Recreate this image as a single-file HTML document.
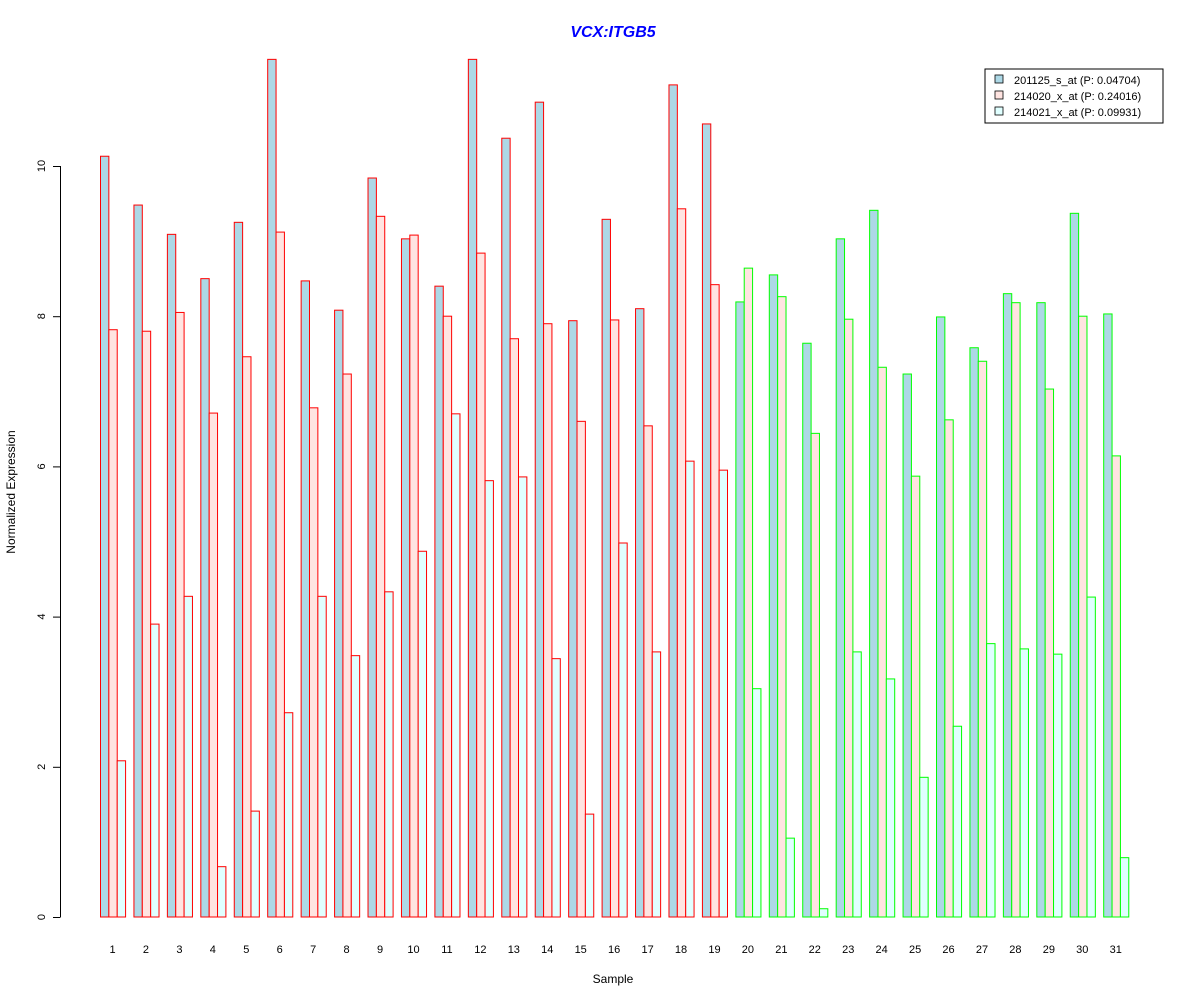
<!DOCTYPE html>
<html><head><meta charset="utf-8"><style>
html,body{margin:0;padding:0;background:#fff;}
svg{display:block;font-family:"Liberation Sans",Arial,sans-serif;}
</style></head><body>
<svg id="chart" width="1200" height="1000" viewBox="0 0 1200 1000" xmlns="http://www.w3.org/2000/svg">
<text x="613" y="37" text-anchor="middle" font-size="16" font-weight="bold" font-style="italic" fill="#0000FF">VCX:ITGB5</text>
<g id="bars"></g>
<g id="yaxis"></g>
<g id="xaxis"></g>
<text x="613" y="983" text-anchor="middle" font-size="12">Sample</text>
<text transform="translate(15,492) rotate(-90)" text-anchor="middle" font-size="12">Normalized Expression</text>
<g>
<rect x="985" y="69" width="178" height="54" fill="#fff" stroke="#000" stroke-width="1"/>
<g><rect x="995" y="75" width="8" height="8" fill="#ADD8E6" stroke="#000" stroke-width="0.8"/><text x="1014" y="84" font-size="11">201125_s_at (P: 0.04704)</text></g>
<g><rect x="995" y="91" width="8" height="8" fill="#FFE4E1" stroke="#000" stroke-width="0.8"/><text x="1014" y="100" font-size="11">214020_x_at (P: 0.24016)</text></g>
<g><rect x="995" y="107" width="8" height="8" fill="#E0FFFF" stroke="#000" stroke-width="0.8"/><text x="1014" y="116" font-size="11">214021_x_at (P: 0.09931)</text></g>
</g>
</svg>
<script>
const categories = ["1","2","3","4","5","6","7","8","9","10","11","12","13","14","15","16","17","18","19","20","21","22","23","24","25","26","27","28","29","30","31"];
const series1 = [10.13,9.48,9.09,8.50,9.25,11.42,8.47,8.08,9.84,9.03,8.40,11.42,10.37,10.85,7.94,9.29,8.10,11.08,10.56,8.19,8.55,7.64,9.03,9.41,7.23,7.99,7.58,8.30,8.18,9.37,8.03];
const series2 = [7.82,7.80,8.05,6.71,7.46,9.12,6.78,7.23,9.33,9.08,8.00,8.84,7.70,7.90,6.60,7.95,6.54,9.43,8.42,8.64,8.26,6.44,7.96,7.32,5.87,6.62,7.40,8.18,7.03,8.00,6.14];
const series3 = [2.08,3.90,4.27,0.67,1.41,2.72,4.27,3.48,4.33,4.87,6.70,5.81,5.86,3.44,1.37,4.98,3.53,6.07,5.95,3.04,1.05,0.11,3.53,3.17,1.86,2.54,3.64,3.57,3.50,4.26,0.79];
const groupClass = [0,0,0,0,0,0,0,0,0,0,0,0,0,0,0,0,0,0,0,1,1,1,1,1,1,1,1,1,1,1,1];
const yTicks = [0,2,4,6,8,10];
const NS="http://www.w3.org/2000/svg";
const y0=917, pxPerUnit=75.1, x0=100, barW=8.36;
const yScale=v=>y0-v*pxPerUnit;
const xBar=(g,s)=>x0+(g*4+s)*barW;
const fills=["#ADD8E6","#FFE4E1","#E0FFFF"];
const borders=["#FF0000","#00FF00"];
const bars=document.getElementById('bars');
const all=[series1,series2,series3];
categories.forEach((c,g)=>{
  all.forEach((ser,s)=>{
    const r=document.createElementNS(NS,'rect');
    
    
    const y=yScale(ser[g]);
    r.setAttribute('x',xBar(g,s)+0.5);r.setAttribute('y',y);
    r.setAttribute('width',barW);r.setAttribute('height',y0-y);
    r.setAttribute('fill',fills[s]);r.setAttribute('stroke',borders[groupClass[g]]);r.setAttribute('stroke-width','1');
    bars.appendChild(r);
  });
  const t=document.createElementNS(NS,'text');
  
  
  t.setAttribute('x',xBar(g,1.5));t.setAttribute('y',953);
  t.setAttribute('text-anchor','middle');t.setAttribute('font-size','11');
  t.textContent=c;
  document.getElementById('xaxis').appendChild(t);
});
const ya=document.getElementById('yaxis');
const ax=document.createElementNS(NS,'line');


ax.setAttribute('x1',60.5);ax.setAttribute('x2',60.5);ax.setAttribute('y1',yScale(yTicks[0]));ax.setAttribute('y2',yScale(yTicks[yTicks.length-1]));ax.setAttribute('stroke','#000');
ya.appendChild(ax);
yTicks.forEach(v=>{
  const l=document.createElementNS(NS,'line');
  
  
  l.setAttribute('x1',53);l.setAttribute('x2',60.5);l.setAttribute('y1',yScale(v)+0.5);l.setAttribute('y2',yScale(v)+0.5);l.setAttribute('stroke','#000');
  ya.appendChild(l);
  const t=document.createElementNS(NS,'text');
  
  
  t.setAttribute('transform','translate(45,'+yScale(v)+') rotate(-90)');
  t.setAttribute('text-anchor','middle');t.setAttribute('font-size','11');
  t.textContent=v;
  ya.appendChild(t);
});
</script>
</body></html>
